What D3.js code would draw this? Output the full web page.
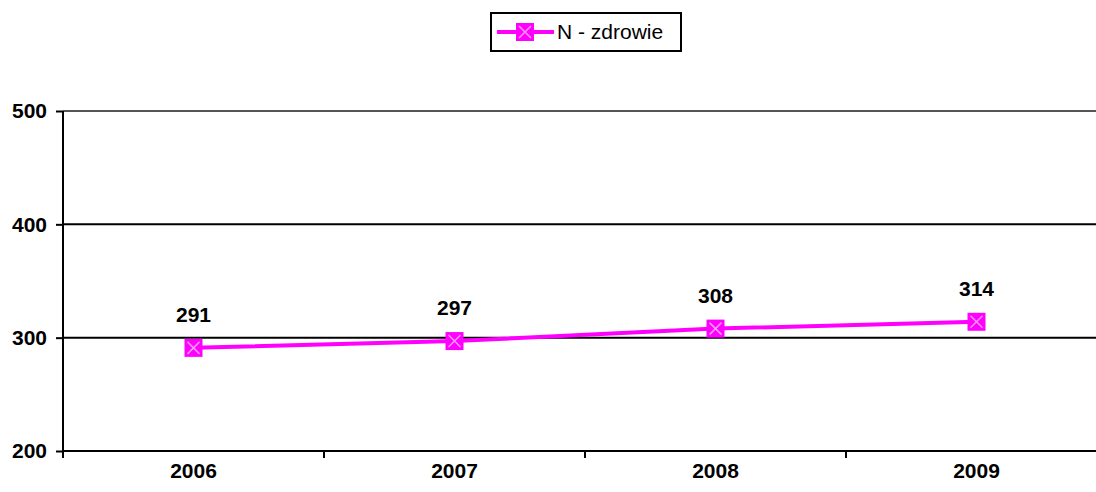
<!DOCTYPE html>
<html>
<head>
<meta charset="utf-8">
<script src="https://cdn.jsdelivr.net/npm/d3@7"></script>
<style>
  body { margin: 0; background: #fff; }
  svg { display: block; font-family: "Liberation Sans", Arial, sans-serif; }
</style>
</head>
<body>
<script>
// chart data
var years = ["2006", "2007", "2008", "2009"];
var zdrowie = [291, 297, 308, 314];
var yTicks = [200, 300, 400, 500];
var seriesName = "N - zdrowie";

var W = 1096, H = 492;
var svg = d3.select("body").append("svg")
    .attr("width", W)
    .attr("height", H);

var plotLeft = 63, plotTop = 111, plotBottom = 451;
var x = d3.scaleBand().domain(years).range([plotLeft, plotLeft + 4 * 261]);
var y = d3.scaleLinear().domain([200, 500]).range([plotBottom, plotTop]);

// gridlines
svg.append("g").selectAll("line")
    .data(yTicks.slice(1))
    .enter().append("line")
    .attr("x1", plotLeft).attr("x2", W)
    .attr("y1", function (d) { return y(d); })
    .attr("y2", function (d) { return y(d); })
    .attr("stroke", function (d) { return d === 500 ? "#555" : "#000"; })
    .attr("stroke-width", 2);

// y axis
var yAxis = svg.append("g")
    .attr("transform", "translate(" + plotLeft + ",0)")
    .call(d3.axisLeft(y).tickValues(yTicks).tickSize(7).tickPadding(9).tickFormat(d3.format("d")));
yAxis.select(".domain").attr("stroke", "#000").attr("stroke-width", 2).attr("d", "M0," + plotTop + "V" + plotBottom);
yAxis.selectAll(".tick line").attr("stroke", "#000").attr("stroke-width", 2);
yAxis.selectAll("text").attr("font-size", 21).attr("font-weight", "bold").attr("fill", "#000")
    .attr("font-family", "Liberation Sans, Arial, sans-serif");

// x axis
var xAxis = svg.append("g")
    .attr("transform", "translate(0," + plotBottom + ")");
xAxis.append("line")
    .attr("x1", plotLeft).attr("x2", W).attr("y1", 0).attr("y2", 0)
    .attr("stroke", "#000").attr("stroke-width", 2);
xAxis.selectAll("line.tk")
    .data(years)
    .enter().append("line").attr("class", "tk")
    .attr("x1", function (d) { return x(d); })
    .attr("x2", function (d) { return x(d); })
    .attr("y1", 0).attr("y2", 7)
    .attr("stroke", "#000").attr("stroke-width", 2);
xAxis.selectAll("text")
    .data(years)
    .enter().append("text")
    .attr("x", function (d) { return x(d) + x.bandwidth() / 2; })
    .attr("y", 20)
    .attr("dy", "0.35em")
    .attr("text-anchor", "middle")
    .attr("font-size", 21).attr("font-weight", "bold")
    .text(function (d) { return d; });

// line
var pts = years.map(function (d, i) { return { year: d, v: zdrowie[i] }; });
var cx = function (d) { return x(d.year) + x.bandwidth() / 2; };
svg.append("path")
    .datum(pts)
    .attr("fill", "none")
    .attr("stroke", "#ff00ff")
    .attr("stroke-width", 4)
    .attr("d", d3.line().x(cx).y(function (d) { return y(d.v); }));

function marker(g, px, py) {
    var s = 9;
    g.append("rect").attr("x", px - s).attr("y", py - s).attr("width", 2 * s).attr("height", 2 * s)
        .attr("fill", "#ff00ff");
    g.append("path")
        .attr("d", "M" + (px - 6) + "," + (py - 6) + "L" + (px + 6) + "," + (py + 6) +
                   "M" + (px + 6) + "," + (py - 6) + "L" + (px - 6) + "," + (py + 6))
        .attr("stroke", "#ff99ff").attr("stroke-width", 1.5);
}
var mg = svg.append("g");
pts.forEach(function (d) { marker(mg, cx(d), y(d.v)); });

// data labels
svg.append("g").selectAll("text")
    .data(pts)
    .enter().append("text")
    .attr("x", cx)
    .attr("y", function (d) { return y(d.v) - 33; })
    .attr("dy", "0.35em")
    .attr("text-anchor", "middle")
    .attr("font-size", 21).attr("font-weight", "bold")
    .text(function (d) { return d.v; });

// legend
var lg = svg.append("g");
lg.append("rect").attr("x", 491).attr("y", 13).attr("width", 190).attr("height", 38)
    .attr("fill", "#fff").attr("stroke", "#000").attr("stroke-width", 2);
lg.append("line").attr("x1", 497).attr("x2", 554).attr("y1", 32).attr("y2", 32)
    .attr("stroke", "#ff00ff").attr("stroke-width", 4);
marker(lg, 525, 32);
lg.append("text").attr("x", 557).attr("y", 32).attr("dy", "0.35em")
    .attr("font-size", 21).text(seriesName);
</script>
</body>
</html>
